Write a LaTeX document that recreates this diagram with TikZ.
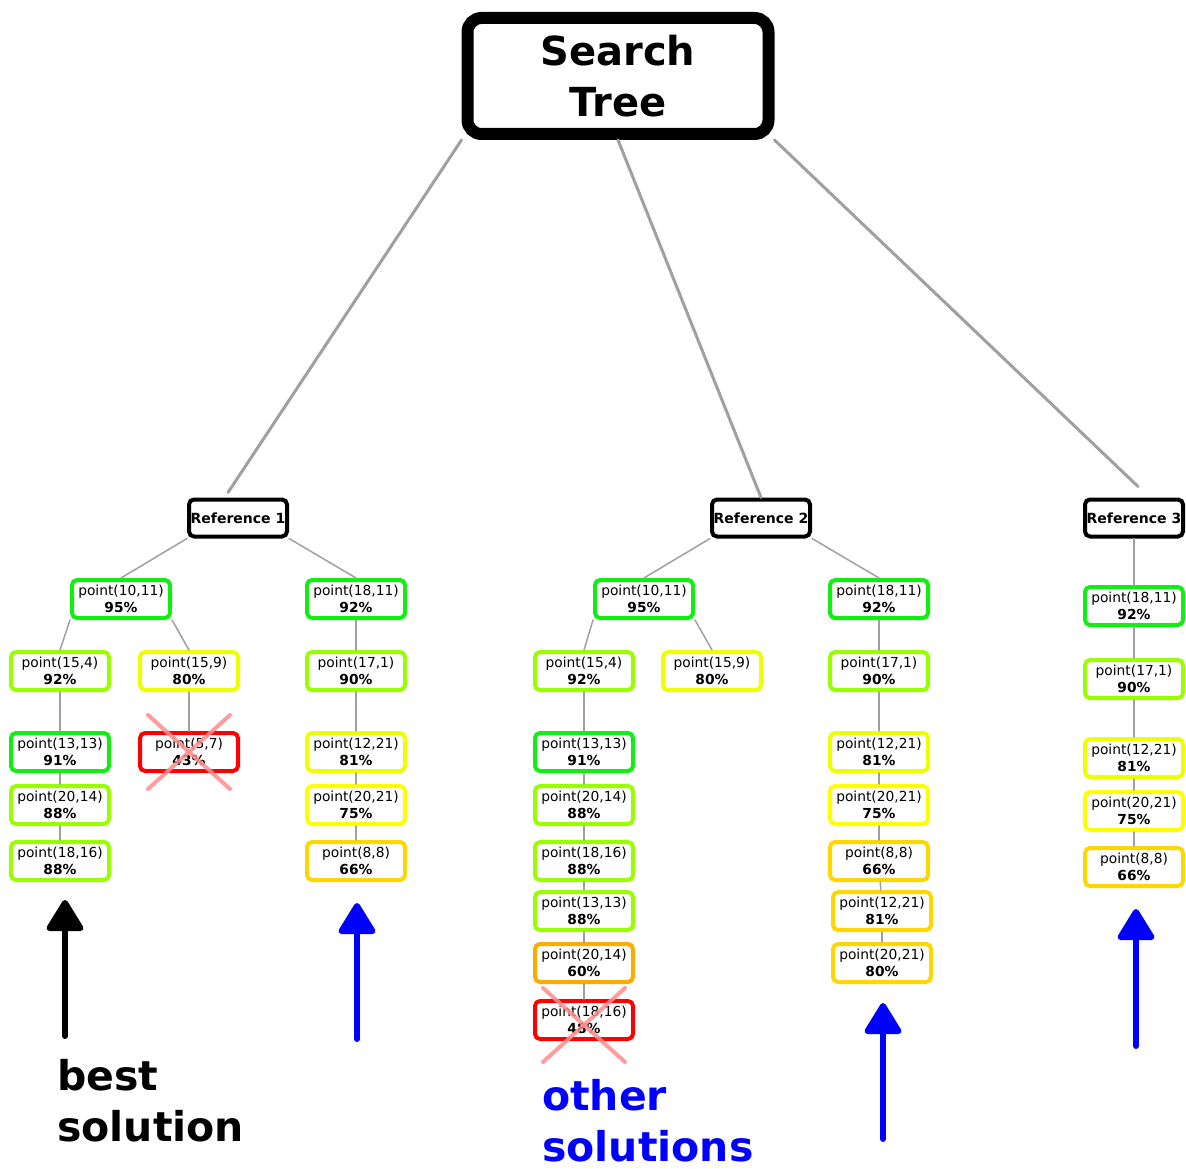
\documentclass[tikz,border=0pt]{standalone}
\usepackage{fontspec}
\setmainfont{DejaVu Sans}
\usetikzlibrary{arrows.meta,positioning}
\definecolor{good}{HTML}{11EE11}
\definecolor{fair}{HTML}{99FF00}
\definecolor{okay}{HTML}{EEFF00}
\definecolor{meh}{HTML}{FFFF00}
\definecolor{weak}{HTML}{FFD700}
\definecolor{poor}{HTML}{FFAA00}
\definecolor{bad}{HTML}{FF0000}
\definecolor{linkgray}{HTML}{A0A0A0}
\definecolor{solblue}{HTML}{0000FF}
\tikzset{
  ptbox/.style={draw=#1,line width=4pt,rounded corners=5pt,fill=white,
    minimum width=98pt,minimum height=38pt,inner sep=0pt,align=center,
    font=\fontsize{13.8}{17}\selectfont},
  refbox/.style={draw=black,line width=4pt,rounded corners=5pt,fill=white,
    minimum width=98pt,minimum height=37pt,inner sep=0pt,
    font=\bfseries\fontsize{14}{16}\selectfont},
  toplink/.style={linkgray,line width=3pt},
  sublink/.style={linkgray,line width=1.5pt},
  cross/.style={draw=red!45,line width=4pt,opacity=0.85},
  solarrow/.style={line width=6pt,-{Triangle[width=40pt,length=34pt,round]}},
  biglabel/.style={inner sep=0pt,align=left,anchor=south west,
    font=\bfseries\fontsize{41}{51}\selectfont}
}
\newcommand{\pnt}[2]{point(#1)\\\textbf{#2\%}}

\begin{document}
\begin{tikzpicture}[x=1pt,y=-1pt,line cap=round]
  \useasboundingbox (0,0) rectangle (1186,1169);

  % root
  \node[draw=black,line width=12pt,rounded corners=14pt,fill=white,
    minimum width=301pt,minimum height=116pt,align=center,
    font=\bfseries\fontsize{40}{51}\selectfont] (st) at (618,76) {Search\\Tree};

  \node[refbox] (r1) at (238,518) {Reference 1};
  \node[refbox] (r2) at (761,518) {Reference 2};
  \node[refbox] (r3) at (1134,518) {Reference 3};

  % reference 1
  \node[ptbox=good] (a1) at (121,599) {\pnt{10,11}{95}};
  \node[ptbox=good] (a2) at (356,599) {\pnt{18,11}{92}};
  \node[ptbox=fair] (a3) at (60,671) {\pnt{15,4}{92}};
  \node[ptbox=okay] (a4) at (189,671) {\pnt{15,9}{80}};
  \node[ptbox=fair] (a5) at (356,671) {\pnt{17,1}{90}};
  \node[ptbox=good] (a6) at (60,752) {\pnt{13,13}{91}};
  \node[ptbox=bad]  (a7) at (189,752) {\pnt{5,7}{43}};
  \node[ptbox=okay] (a8) at (356,752) {\pnt{12,21}{81}};
  \node[ptbox=fair] (a9) at (60,805) {\pnt{20,14}{88}};
  \node[ptbox=meh]  (a10) at (356,805) {\pnt{20,21}{75}};
  \node[ptbox=fair] (a11) at (60,861) {\pnt{18,16}{88}};
  \node[ptbox=weak] (a12) at (356,861) {\pnt{8,8}{66}};

  % reference 2
  \node[ptbox=good] (b1) at (644,599) {\pnt{10,11}{95}};
  \node[ptbox=good] (b2) at (879,599) {\pnt{18,11}{92}};
  \node[ptbox=fair] (b3) at (584,671) {\pnt{15,4}{92}};
  \node[ptbox=okay] (b4) at (712,671) {\pnt{15,9}{80}};
  \node[ptbox=fair] (b5) at (879,671) {\pnt{17,1}{90}};
  \node[ptbox=good] (b6) at (584,752) {\pnt{13,13}{91}};
  \node[ptbox=okay] (b7) at (879,752) {\pnt{12,21}{81}};
  \node[ptbox=fair] (b8) at (584,805) {\pnt{20,14}{88}};
  \node[ptbox=meh]  (b9) at (879,805) {\pnt{20,21}{75}};
  \node[ptbox=fair] (b10) at (584,861) {\pnt{18,16}{88}};
  \node[ptbox=weak] (b11) at (879,861) {\pnt{8,8}{66}};
  \node[ptbox=fair] (b12) at (584,911) {\pnt{13,13}{88}};
  \node[ptbox=weak] (b13) at (882,911) {\pnt{12,21}{81}};
  \node[ptbox=poor] (b14) at (584,963) {\pnt{20,14}{60}};
  \node[ptbox=weak] (b15) at (882,963) {\pnt{20,21}{80}};
  \node[ptbox=bad]  (b16) at (584,1020) {\pnt{18,16}{48}};

  % reference 3
  \node[ptbox=good] (c1) at (1134,606) {\pnt{18,11}{92}};
  \node[ptbox=fair] (c2) at (1134,679) {\pnt{17,1}{90}};
  \node[ptbox=okay] (c3) at (1134,758) {\pnt{12,21}{81}};
  \node[ptbox=meh]  (c4) at (1134,811) {\pnt{20,21}{75}};
  \node[ptbox=weak] (c5) at (1134,867) {\pnt{8,8}{66}};

  % links
  \draw[toplink] (st.south west) -- ([shift={(-10,-5)}]r1.north);
  \draw[toplink] (st.south) -- (r2.north);
  \draw[toplink] (st.south east) -- ([shift={(4,-11)}]r3.north);

  \draw[sublink] (r1.south west) -- (a1.north);
  \draw[sublink] (r1.south east) -- (a2.north);
  \draw[sublink] (a1.south west) -- (a3.north);
  \draw[sublink] (a1.south east) -- (a4.north);
  \draw[sublink] (a2) -- (a5);
  \draw[sublink] (a3) -- (a6);
  \draw[sublink] (a4) -- (a7);
  \draw[sublink] (a5) -- (a8);
  \draw[sublink] (a6) -- (a9);
  \draw[sublink] (a8) -- (a10);
  \draw[sublink] (a9) -- (a11);
  \draw[sublink] (a10) -- (a12);

  \draw[sublink] (r2.south west) -- (b1.north);
  \draw[sublink] (r2.south east) -- (b2.north);
  \draw[sublink] (b1.south west) -- (b3.north);
  \draw[sublink] (b1.south east) -- (b4.north);
  \draw[sublink] (b2) -- (b5);
  \draw[sublink] (b3) -- (b6);
  \draw[sublink] (b5) -- (b7);
  \draw[sublink] (b6) -- (b8);
  \draw[sublink] (b7) -- (b9);
  \draw[sublink] (b8) -- (b10);
  \draw[sublink] (b9) -- (b11);
  \draw[sublink] (b10) -- (b12);
  \draw[sublink] (b11) -- (b13);
  \draw[sublink] (b12) -- (b14);
  \draw[sublink] (b13) -- (b15);
  \draw[sublink] (b14) -- (b16);

  \draw[sublink] (r3) -- (c1);
  \draw[sublink] (c1) -- (c2);
  \draw[sublink] (c2) -- (c3);
  \draw[sublink] (c3) -- (c4);
  \draw[sublink] (c4) -- (c5);

  % pruned
  \draw[cross] ([shift={(-41,-37)}]a7.center) -- ([shift={(41,37)}]a7.center);
  \draw[cross] ([shift={(41,-37)}]a7.center) -- ([shift={(-41,37)}]a7.center);
  \draw[cross] ([shift={(-41,-32)}]b16.center) -- ([shift={(41,42)}]b16.center);
  \draw[cross] ([shift={(41,-32)}]b16.center) -- ([shift={(-41,42)}]b16.center);

  % solutions
  \coordinate (best foot) at (65,1036);
  \coordinate (best tip) at (65,900);
  \coordinate (ref1 foot) at (357,1039);
  \coordinate (ref1 tip) at (357,903);
  \coordinate (ref2 foot) at (883,1139);
  \coordinate (ref2 tip) at (883,1003);
  \coordinate (ref3 foot) at (1136,1046);
  \coordinate (ref3 tip) at (1136,909);
  \draw[solarrow,black] (best foot) -- (best tip);
  \draw[solarrow,solblue] (ref1 foot) -- (ref1 tip);
  \draw[solarrow,solblue] (ref2 foot) -- (ref2 tip);
  \draw[solarrow,solblue] (ref3 foot) -- (ref3 tip);

  \node[biglabel] (best) at (57,1142) {best\\solution};
  \node[biglabel,text=solblue] (other) at (542,1162) {other\\solutions};

\end{tikzpicture}
\end{document}
